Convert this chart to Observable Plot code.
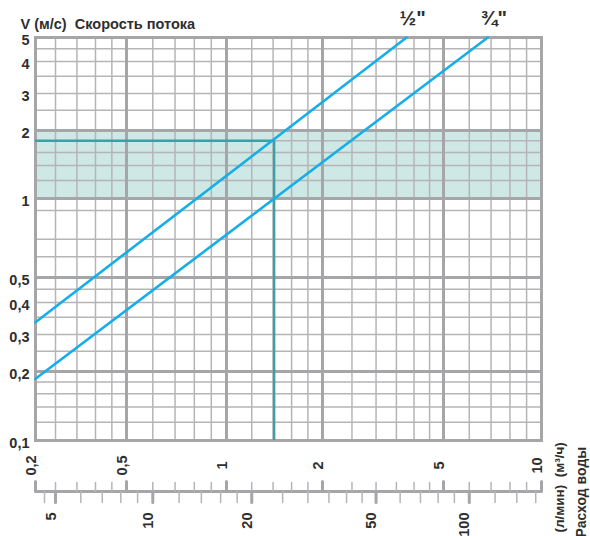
<!DOCTYPE html>
<html><head><meta charset="utf-8">
<script src="https://cdn.jsdelivr.net/npm/d3@7"></script>
<script src="https://cdn.jsdelivr.net/npm/@observablehq/plot@0.6"></script>
<style>
html,body{margin:0;padding:0;background:#fff;}
#chart svg{display:block;}
</style>
</head><body><div id="chart"></div>
<script>
// ---- data ----
const seriesNames   = ["½\"", "¾\""];
const flowStart     = [0.2, 0.2];      // m³/h at the left edge
const speedStart    = [0.335, 0.186];  // m/s at the left edge
const flowEnd       = [3.78, 6.84];    // m³/h where the line reaches the top
const speedEnd      = [5, 5];          // m/s
const markerFlow    = 1.41;            // m³/h
const markerSpeed   = 1.8;             // m/s
const bandLow = 1, bandHigh = 2;       // recommended speed band, m/s

const xTickValues = [0.2, 0.5, 1, 2, 5, 10];
const xTickLabels = ["0,2", "0,5", "1", "2", "5", "10"];
const xMajorGrid  = [0.5, 1, 2, 5];
const xMinorGrid  = [0.3, 0.35, 0.4, 0.45, 0.6, 0.7, 0.8, 0.9, 1.2, 1.4, 1.6, 1.8, 2.5, 3, 3.5, 4, 4.5, 6, 7, 8, 9];

const yTickValues = [0.1, 0.2, 0.3, 0.4, 0.5, 1, 2, 3, 4, 5];
const yTickLabels = ["0,1", "0,2", "0,3", "0,4", "0,5", "1", "2", "3", "4", "5"];
const yMajorGrid  = [0.2, 0.5, 1, 2];
const yMinorGrid  = [0.12, 0.14, 0.16, 0.18, 0.25, 0.3, 0.35, 0.4, 0.45, 0.6, 0.7, 0.9, 1.2, 1.4, 1.6, 1.8, 2.5, 3, 3.5, 4, 4.5];

const lminTickValues = [5, 10, 20, 50, 100];
const lminTickLabels = ["5", "10", "20", "50", "100"];
const lminMinor      = [4, 6, 7, 8, 9, 12, 14, 16, 18, 25, 30, 35, 40, 45, 60, 70, 80, 90, 120, 140, 160];
const lminPerM3h     = 1000 / 60;

const titleText = "V (м/с)  Скорость потока";
const unitText  = "(л/мин)  (м³/ч)";
const axisName  = "Расход воды";

// ---- tables built from the arrays ----
const lineRows = seriesNames.flatMap((s, i) => [
  {s, q: flowStart[i], v: speedStart[i]},
  {s, q: flowEnd[i],   v: speedEnd[i]}
]);
const labelRows = seriesNames.map((s, i) => ({s, q: flowEnd[i], v: speedEnd[i]}));

const FONT = "'Liberation Sans', Arial, sans-serif";
const GRID = "#b5b5b7", GRIDDARK = "#a6a6a8", TEAL = "#3d9fa5", BLUE = "#16aee8", INK = "#2e2e2e";
const tickUp = {draw(ctx, l) { ctx.moveTo(0, 0); ctx.lineTo(0, -l); }};

const chart = Plot.plot({
  width: 590, height: 536,
  marginLeft: 35, marginRight: 49, marginTop: 37, marginBottom: 96,
  x: {type: "log", domain: [0.2, 0.3, 0.5, 1, 2, 5, 10], range: [35, 55, 126, 226, 322, 443, 541], axis: null},
  y: {type: "log", domain: [0.1, 0.2, 0.3, 0.4, 0.5, 1, 2, 3, 4, 5], range: [440, 371, 334, 302, 277, 198, 130, 93, 61, 37], axis: null},
  style: {fontFamily: FONT, background: "#fff", color: INK},
  marks: [
    Plot.rect([0], {y1: bandLow, y2: bandHigh, fill: "#cde8e5"}),
    Plot.ruleX(xMinorGrid, {stroke: GRID, strokeWidth: 1.5}),
    Plot.ruleY(yMinorGrid, {stroke: GRID, strokeWidth: 1.5}),
    Plot.ruleX(xMajorGrid, {stroke: GRIDDARK, strokeWidth: 3}),
    Plot.ruleY(yMajorGrid, {stroke: GRIDDARK, strokeWidth: 3}),
    Plot.frame({stroke: GRIDDARK, strokeWidth: 3}),
    // marker
    Plot.ruleY([markerSpeed], {x1: xTickValues[0], x2: markerFlow, stroke: TEAL, strokeWidth: 2.5}),
    Plot.ruleX([markerFlow], {y1: yTickValues[0], y2: markerSpeed, stroke: TEAL, strokeWidth: 2.5}),
    // series
    Plot.line(lineRows, {x: "q", y: "v", z: "s", stroke: BLUE, strokeWidth: 2.6}),
    Plot.text(labelRows, {x: "q", y: "v", text: "s", dx: 6, dy: -19, fontSize: 20, fontWeight: "bold", fill: INK}),
    // y tick labels
    Plot.text(yTickValues, {y: d => d, text: (d, i) => yTickLabels[i], frameAnchor: "left", textAnchor: "end", dx: -6, dy: 3, fontSize: 14.5, fontWeight: "bold", fill: INK}),
    // x (m³/h) tick labels
    Plot.text(xTickValues, {x: d => d, text: (d, i) => xTickLabels[i], frameAnchor: "bottom", rotate: -90, dy: 25, fontSize: 14.5, fontWeight: "bold", fill: INK}),
    // dual axis baseline
    Plot.ruleY([yTickValues[0]], {dy: 51, stroke: GRIDDARK, strokeWidth: 3}),
    // m³/h ticks (upward)
    Plot.vector(xMinorGrid, {x: d => d, frameAnchor: "bottom", dy: 51, length: 9, rotate: 0, anchor: "start", shape: tickUp, stroke: GRID, strokeWidth: 1.5}),
    Plot.vector(xTickValues, {x: d => d, frameAnchor: "bottom", dy: 51, length: 10, rotate: 0, anchor: "start", shape: tickUp, stroke: GRIDDARK, strokeWidth: 3}),
    // l/min ticks (downward)
    Plot.vector(lminMinor, {x: d => d / lminPerM3h, frameAnchor: "bottom", dy: 51, length: 11, rotate: 180, anchor: "start", shape: tickUp, stroke: GRID, strokeWidth: 1.5}),
    Plot.vector(lminTickValues, {x: d => d / lminPerM3h, frameAnchor: "bottom", dy: 51, length: 11, rotate: 180, anchor: "start", shape: tickUp, stroke: GRIDDARK, strokeWidth: 3}),
    Plot.text(lminTickValues, {x: d => d / lminPerM3h, text: (d, i) => lminTickLabels[i], frameAnchor: "bottom", rotate: -90, textAnchor: "end", dy: 72, fontSize: 14.5, fontWeight: "bold", fill: INK}),
    // titles
    Plot.text([titleText], {frameAnchor: "top-left", textAnchor: "start", dx: -15, dy: -19, fontSize: 14.5, fontWeight: "bold", fill: INK}),
    Plot.text([unitText], {frameAnchor: "bottom-right", rotate: -90, textAnchor: "start", dx: 22, dy: 92, fontSize: 13.5, fontWeight: "bold", fill: INK}),
    Plot.text([axisName], {frameAnchor: "bottom-right", rotate: -90, textAnchor: "start", dx: 44, dy: 97, fontSize: 14, fontWeight: "bold", fill: INK})
  ]
});
document.getElementById("chart").appendChild(chart);
</script>
</body></html>
